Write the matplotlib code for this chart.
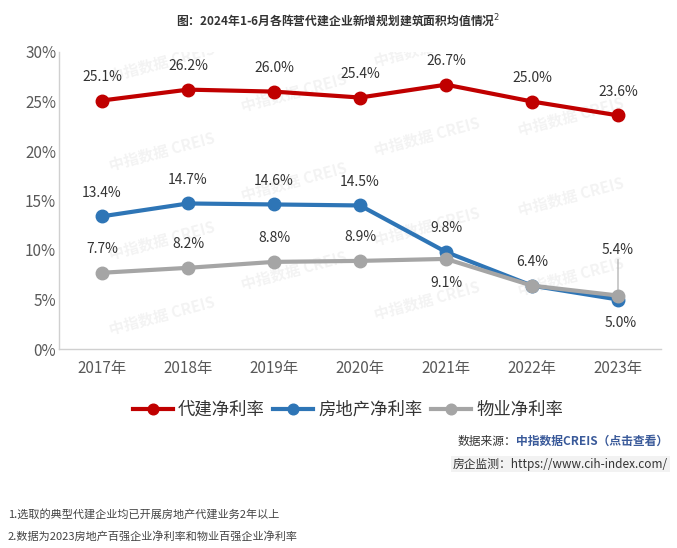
import matplotlib
matplotlib.use("Agg")
import matplotlib.pyplot as plt

plt.rcParams['font.family'] = ['Noto Sans CJK SC', 'DejaVu Sans']

years = ["2017年", "2018年", "2019年", "2020年", "2021年", "2022年", "2023年"]
daijian = [25.1, 26.2, 26.0, 25.4, 26.7, 25.0, 23.6]
fangdichan = [13.4, 14.7, 14.6, 14.5, 9.8, 6.4, 5.0]
wuye = [7.7, 8.2, 8.8, 8.9, 9.1, 6.4, 5.4]
series_names = ["代建净利率", "房地产净利率", "物业净利率"]
yticks = [0, 5, 10, 15, 20, 25, 30]

colors = ["#c00000", "#2e75b6", "#a5a5a5"]

fig = plt.figure(figsize=(6.77, 5.48), dpi=100)
ax = fig.add_axes([59/677, 1-349/548, 602/677, 297/548])

x = list(range(len(years)))
# watermarks
for (wx, wy) in [(0.08, 0.9), (0.08, 0.6), (0.08, 0.3), (0.08, 0.05),
                 (0.3, 0.8), (0.3, 0.5), (0.3, 0.2),
                 (0.52, 0.95), (0.52, 0.65), (0.52, 0.35), (0.52, 0.1),
                 (0.76, 0.72), (0.76, 0.45), (0.76, 0.18)]:
    ax.text(wx, wy, "中指数据 CREIS", transform=ax.transAxes, rotation=15, color="#000000",
            alpha=0.05, fontsize=11, fontweight="bold", zorder=0, clip_on=True)

for vals, c, name in [(daijian, colors[0], series_names[0]), (fangdichan, colors[1], series_names[1]),
                      (wuye, colors[2], series_names[2])]:
    ax.plot(x, vals, color=c, lw=3, marker="o", ms=9, label=name, zorder=3)

lab_kw = dict(ha="center", fontsize=10, color="#333333", zorder=4)
for i, v in enumerate(daijian):
    ax.annotate(f"{v:.1f}%", (i, v), xytext=(0, 12), textcoords="offset points", va="bottom", **lab_kw)
for i, v in enumerate(fangdichan):
    if i == 5:
        continue
    if i == 6:
        ax.annotate(f"{v:.1f}%", (i, v), xytext=(2, -12), textcoords="offset points", va="top", **lab_kw)
    else:
        ax.annotate(f"{v:.1f}%", (i, v), xytext=(0, 12), textcoords="offset points", va="bottom", **lab_kw)
for i, v in enumerate(wuye):
    if i == 4:
        ax.annotate(f"{v:.1f}%", (i, v), xytext=(0, -12), textcoords="offset points", va="top", **lab_kw)
    elif i == 6:
        ax.annotate(f"{v:.1f}%", (i, v), xytext=(0, 28), textcoords="offset points", va="bottom",
                    arrowprops=dict(arrowstyle="-", color="#a5a5a5", lw=0.8, shrinkA=0, shrinkB=0), **lab_kw)
    else:
        ax.annotate(f"{v:.1f}%", (i, v), xytext=(0, 12), textcoords="offset points", va="bottom", **lab_kw)

ax.set_xlim(-0.5, len(years) - 0.5)
ax.set_ylim(0, 30)
ax.set_yticks(yticks)
ax.set_yticklabels([f"{t}%" for t in yticks])
ax.set_xticks(x)
ax.set_xticklabels(years)
ax.tick_params(axis="both", colors="#595959", labelsize=11, length=0)
ax.tick_params(axis="x", pad=8)
ax.tick_params(axis="y", pad=2)
for s in ["top", "right"]:
    ax.spines[s].set_visible(False)
for s in ["left", "bottom"]:
    ax.spines[s].set_color("#d0d0d0")
    ax.spines[s].set_linewidth(1)

leg = fig.legend(loc="center", bbox_to_anchor=(348/677, 1-410/548), ncol=3, frameon=False,
                 fontsize=12.5, handlelength=2.3, columnspacing=0.5, handletextpad=0.3, markerscale=0.85)
for t in leg.get_texts():
    t.set_color("#333333")

fig.text(338/677, 1-21/548, "图：2024年1-6月各阵营代建企业新增规划建筑面积均值情况$^2$", ha="center", va="center",
         fontsize=8.5, fontweight="bold", color="#333333")

# source text
t2 = fig.text(668/677, 1-441/548, "中指数据CREIS（点击查看）", ha="right", va="center", fontsize=8.5,
              color="#3a5a9a", fontweight="bold")
fig.canvas.draw()
bb = t2.get_window_extent()
fig.text(bb.x0/677, 1-441/548, "数据来源：", ha="right", va="center", fontsize=8.5, color="#333333")
fig.text(668/677, 1-464/548, "房企监测：https://www.cih-index.com/", ha="right", va="center", fontsize=8.5,
         color="#333333", bbox=dict(boxstyle="square,pad=0.15", fc="#f2f2f2", ec="none"))

fig.text(8/677, 1-514/548, "1.选取的典型代建企业均已开展房地产代建业务2年以上", ha="left", va="center",
         fontsize=8, color="#444444", style="italic")
fig.text(8/677, 1-536/548, "2.数据为2023房地产百强企业净利率和物业百强企业净利率", ha="left", va="center",
         fontsize=8, color="#444444", style="italic")

fig.savefig("out.png", dpi=100)
